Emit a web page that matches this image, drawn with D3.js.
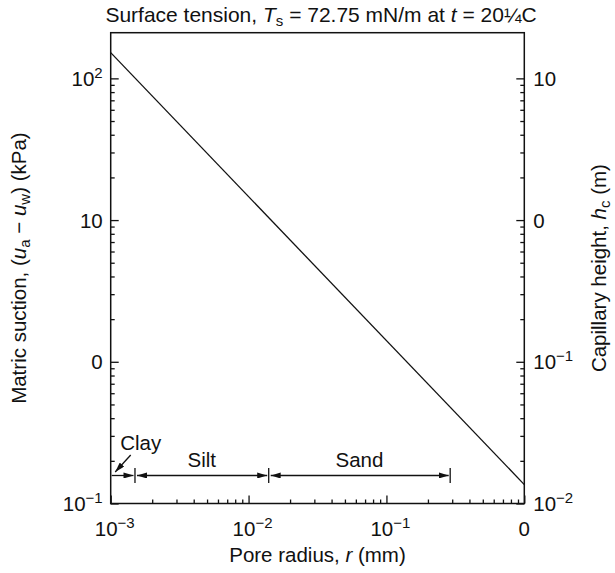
<!DOCTYPE html>
<html>
<head>
<meta charset="utf-8">
<script src="https://cdn.jsdelivr.net/npm/d3@7"></script>
<style>
  body { margin: 0; background: #fff; }
  text { font-family: "Liberation Sans", Arial, Helvetica, sans-serif; fill: #111; }
</style>
</head>
<body>
<div id="chart"></div>
<script>
// curve end points: pore radius (mm) vs matric suction (kPa)
const radius = [0.001, 1];
const suction = [152, 0.136];

// soil ranges along the radius axis
const soilNames = ["Clay", "Silt", "Sand"];
const soilFrom = [0.001, 0.0015, 0.014];
const soilTo = [0.0015, 0.014, 0.29];

// tick labels (base, exponent)
const xTickVals = [1e-3, 1e-2, 1e-1, 1];
const xTickText = [["10", "−3"], ["10", "−2"], ["10", "−1"], ["0", ""]];
const leftTickVals = [0.1, 1, 10, 100];
const leftTickText = [["10", "−1"], ["0", ""], ["10", ""], ["10", "2"]];
const rightTickVals = [0.01, 0.1, 1, 10];
const rightTickText = [["10", "−2"], ["10", "−1"], ["0", ""], ["10", ""]];

const width = 615, height = 573;
const margin = { top: 32.7, right: 90.7, bottom: 69.5, left: 110.7 };
const iw = width - margin.left - margin.right;
const ih = height - margin.top - margin.bottom;

const svg = d3.select("#chart").append("svg")
    .attr("width", width)
    .attr("height", height);

const g = svg.append("g")
    .attr("transform", `translate(${margin.left},${margin.top})`);

const x = d3.scaleLog().domain([0.001, 1]).range([0, iw]);
const y = d3.scaleLog().domain([0.1, 210]).range([ih, 0]);
const y2 = d3.scaleLog().domain([0.01, 21]).range([ih, 0]);

const fs = 20.5;
const subFs = 15;

// minor + major ticks, pointing inwards
function addTicks(axis, vals, len, transform) {
    const a = g.append("g")
        .attr("transform", transform)
        .call(axis.tickValues(vals).tickSize(len).tickFormat(""));
    a.select(".domain").remove();
    a.selectAll("line").attr("stroke", "#111").attr("stroke-width", 1.3);
}

const xMinor = x.ticks().filter(v => !xTickVals.includes(v));
const yMinor = y.ticks().filter(v => v <= 100 && !leftTickVals.includes(v));
const y2Minor = y2.ticks().filter(v => v <= 10 && !rightTickVals.includes(v));

addTicks(d3.axisBottom(x), xMinor, -4, `translate(0,${ih})`);
addTicks(d3.axisBottom(x), xTickVals, -8, `translate(0,${ih})`);
addTicks(d3.axisLeft(y), yMinor, -4, "");
addTicks(d3.axisLeft(y), leftTickVals, -8, "");
addTicks(d3.axisRight(y2), y2Minor, -4, `translate(${iw},0)`);
addTicks(d3.axisRight(y2), rightTickVals, -8, `translate(${iw},0)`);

// frame
g.append("rect")
    .attr("width", iw).attr("height", ih)
    .attr("fill", "none").attr("stroke", "#111").attr("stroke-width", 1.5);

// tick labels with superscripts
function powLabel(sel, parts) {
    sel.append("tspan").text(parts[0]);
    if (parts[1]) {
        sel.append("tspan")
            .attr("dy", -8)
            .attr("font-size", subFs)
            .text(parts[1]);
    }
}

xTickVals.forEach((v, i) => {
    const t = g.append("text")
        .attr("x", x(v) + (xTickText[i][1] ? 4 : 0))
        .attr("y", ih + 33)
        .attr("text-anchor", "middle")
        .attr("font-size", fs);
    powLabel(t, xTickText[i]);
});

leftTickVals.forEach((v, i) => {
    const t = g.append("text")
        .attr("x", -8)
        .attr("y", y(v) + 7.5)
        .attr("text-anchor", "end")
        .attr("font-size", fs);
    powLabel(t, leftTickText[i]);
});

rightTickVals.forEach((v, i) => {
    const t = g.append("text")
        .attr("x", iw + 9)
        .attr("y", y2(v) + 7.5)
        .attr("text-anchor", "start")
        .attr("font-size", fs);
    powLabel(t, rightTickText[i]);
});

// the suction line
const line = d3.line().x(d => x(d[0])).y(d => y(d[1]));
g.append("path")
    .datum(radius.map((r, i) => [r, suction[i]]))
    .attr("d", line)
    .attr("fill", "none")
    .attr("stroke", "#111")
    .attr("stroke-width", 1.3);

// arrow marker
const defs = svg.append("defs");
defs.append("marker")
    .attr("id", "arrow")
    .attr("viewBox", "0 0 10 6")
    .attr("refX", 10).attr("refY", 3)
    .attr("markerWidth", 10).attr("markerHeight", 6)
    .attr("markerUnits", "userSpaceOnUse")
    .attr("orient", "auto-start-reverse")
    .append("path")
    .attr("d", "M0,0 L10,3 L0,6 Z")
    .attr("fill", "#111");

// soil range bands
const bandY = 442.8;
soilNames.forEach((name, i) => {
    const x0 = x(soilFrom[i]), x1 = x(soilTo[i]);
    const isClay = i === 0;
    g.append("line")
        .attr("x1", isClay ? x0 + 1 : x0 + 2)
        .attr("x2", x1 - 1.5)
        .attr("y1", bandY).attr("y2", bandY)
        .attr("stroke", "#111").attr("stroke-width", 1.3)
        .attr("marker-start", isClay ? null : "url(#arrow)")
        .attr("marker-end", "url(#arrow)");
    g.append("line")
        .attr("x1", x1).attr("x2", x1)
        .attr("y1", bandY - 7.5).attr("y2", bandY + 7.5)
        .attr("stroke", "#111").attr("stroke-width", 1.3);
    if (!isClay) {
        g.append("text")
            .attr("x", x(Math.sqrt(soilFrom[i] * soilTo[i])))
            .attr("y", bandY - 8)
            .attr("text-anchor", "middle")
            .attr("font-size", fs)
            .text(name);
    }
});

// Clay label with pointer
g.append("text")
    .attr("x", 9.5)
    .attr("y", bandY - 25)
    .attr("font-size", fs)
    .text(soilNames[0]);
g.append("line")
    .attr("x1", 20).attr("y1", bandY - 20.5)
    .attr("x2", 4.5).attr("y2", bandY - 3.5)
    .attr("stroke", "#111").attr("stroke-width", 1.3)
    .attr("marker-end", "url(#arrow)");

// title
const title = svg.append("text")
    .attr("x", 321).attr("y", 22)
    .attr("text-anchor", "middle")
    .attr("font-size", 21);
title.append("tspan").text("Surface tension, ");
title.append("tspan").attr("font-style", "italic").text("T");
title.append("tspan").attr("font-size", subFs).attr("dy", 4).text("s");
title.append("tspan").attr("dy", -4).text(" = 72.75 mN/m at ");
title.append("tspan").attr("font-style", "italic").text("t");
title.append("tspan").text(" = 20¼C");

// x label
const xl = svg.append("text")
    .attr("x", margin.left + iw / 2).attr("y", 562)
    .attr("text-anchor", "middle")
    .attr("font-size", fs);
xl.append("tspan").text("Pore radius, ");
xl.append("tspan").attr("font-style", "italic").text("r");
xl.append("tspan").text(" (mm)");

// left label
const yl = svg.append("text")
    .attr("transform", `translate(26,${margin.top + ih / 2}) rotate(-90)`)
    .attr("text-anchor", "middle")
    .attr("font-size", fs);
yl.append("tspan").text("Matric suction, (");
yl.append("tspan").attr("font-style", "italic").text("u");
yl.append("tspan").attr("font-size", subFs).attr("dy", 4).text("a");
yl.append("tspan").attr("dy", -4).text(" − ");
yl.append("tspan").attr("font-style", "italic").text("u");
yl.append("tspan").attr("font-size", subFs).attr("dy", 4).text("w");
yl.append("tspan").attr("dy", -4).text(") (kPa)");

// right label
const rl = svg.append("text")
    .attr("transform", `translate(606,${margin.top + ih / 2}) rotate(-90)`)
    .attr("text-anchor", "middle")
    .attr("font-size", fs);
rl.append("tspan").text("Capillary height, ");
rl.append("tspan").attr("font-style", "italic").text("h");
rl.append("tspan").attr("font-size", subFs).attr("dy", 4).text("c");
rl.append("tspan").attr("dy", -4).text(" (m)");
</script>
</body>
</html>
